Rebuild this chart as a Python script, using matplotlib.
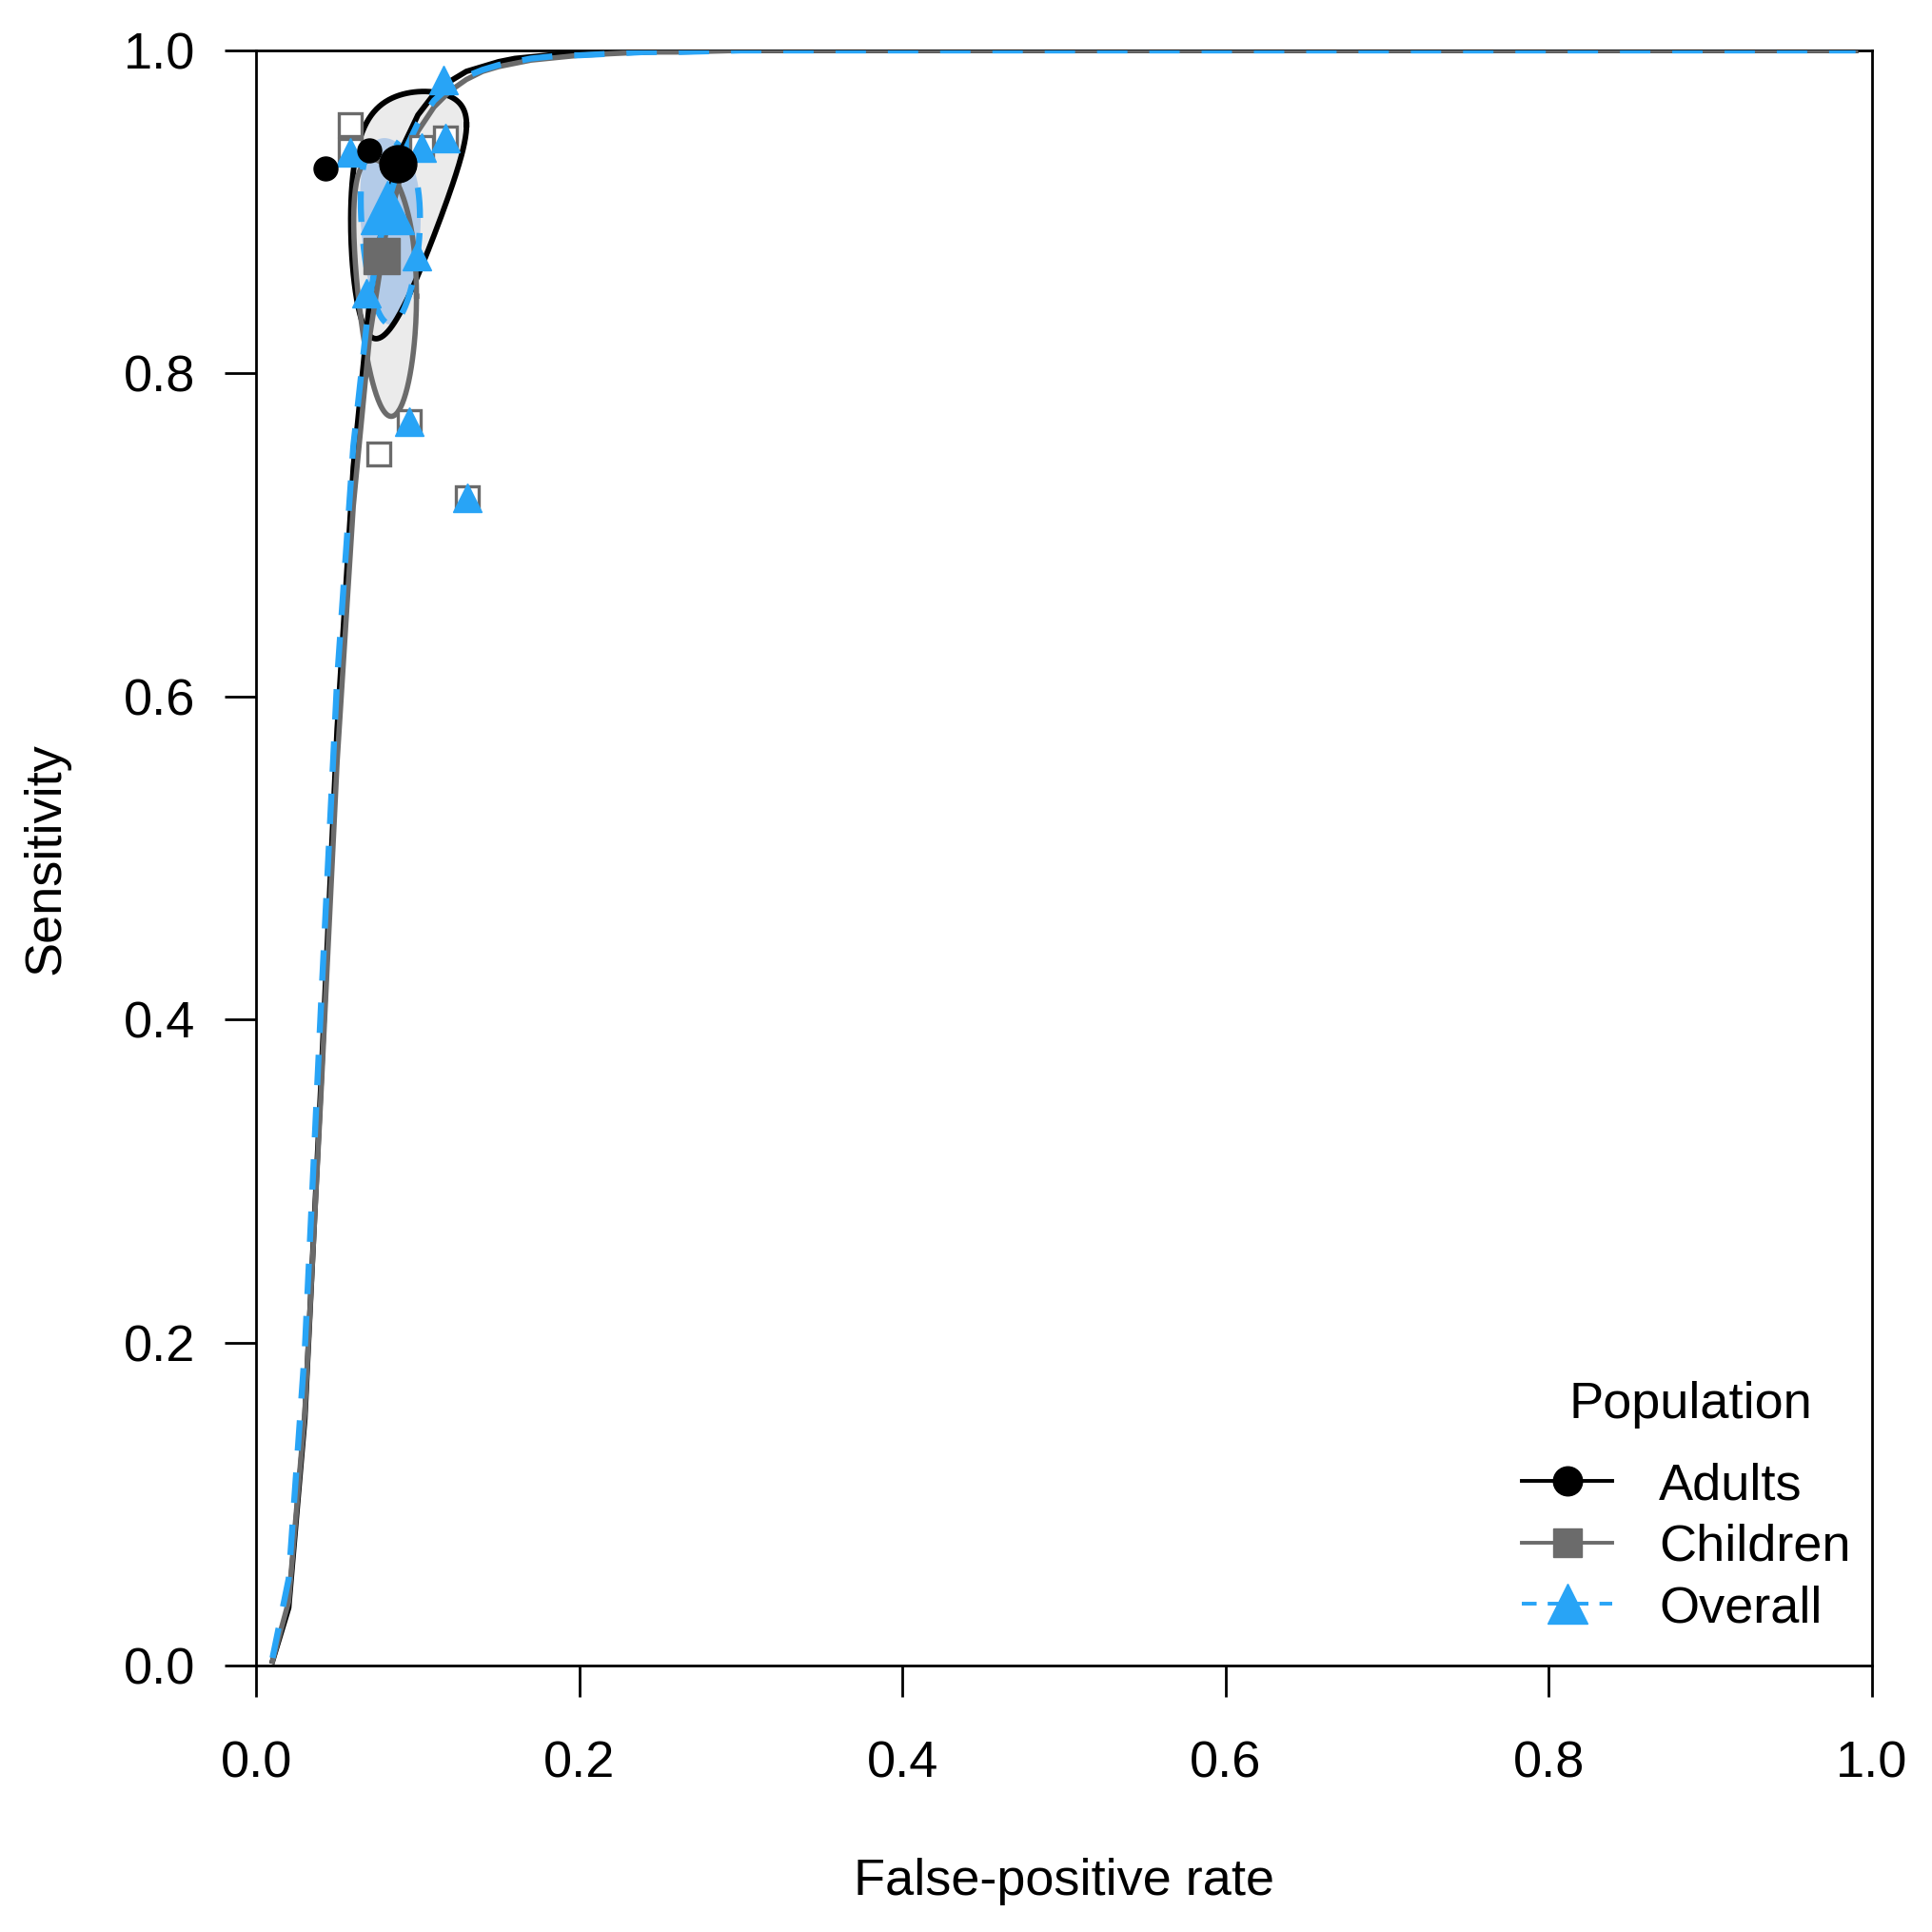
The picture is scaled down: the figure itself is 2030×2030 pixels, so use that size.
import numpy as np
import matplotlib.pyplot as plt
from matplotlib.lines import Line2D

plt.rcParams['font.family'] = ['Liberation Sans', 'DejaVu Sans']

# SROC curves
sroc_fpr = [0.01, 0.02, 0.03, 0.04, 0.05, 0.06, 0.07, 0.08, 0.09, 0.10, 0.11, 0.12, 0.13,
            0.14, 0.15, 0.16, 0.17, 0.18, 0.19, 0.20, 0.22, 0.24, 0.26, 0.30, 0.99]
adult_sroc = [0.003, 0.036, 0.153, 0.361, 0.580, 0.742, 0.844, 0.904, 0.939, 0.960, 0.973, 0.981, 0.987,
              0.990, 0.993, 0.995, 0.996, 0.997, 0.998, 0.998, 0.999, 0.999, 1.000, 1.000, 1.000]
child_sroc = [0.003, 0.040, 0.157, 0.354, 0.560, 0.718, 0.822, 0.886, 0.925, 0.950, 0.965, 0.975, 0.982,
              0.987, 0.990, 0.992, 0.994, 0.995, 0.996, 0.997, 0.998, 0.999, 0.999, 1.000, 1.000]
overall_sroc = [0.005, 0.054, 0.196, 0.409, 0.611, 0.755, 0.846, 0.901, 0.934, 0.955, 0.969, 0.978, 0.984,
                0.988, 0.991, 0.993, 0.995, 0.996, 0.997, 0.997, 0.998, 0.999, 0.999, 1.000, 1.000]

# study estimates
adult_fpr = [0.043, 0.070]
adult_sens = [0.927, 0.938]
child_fpr = [0.058, 0.076, 0.058, 0.1025, 0.117, 0.0947, 0.1306]
child_sens = [0.954, 0.750, 0.938, 0.940, 0.946, 0.770, 0.723]
overall_fpr = [0.058, 0.1157, 0.1025, 0.117, 0.0996, 0.0682, 0.0947, 0.1306]
overall_sens = [0.937, 0.982, 0.940, 0.946, 0.873, 0.850, 0.770, 0.723]

# summary points
summ_adult = (0.0878, 0.930)
summ_child = (0.0776, 0.873)
summ_overall = (0.081, 0.903)

# confidence regions in logit space: centre x, centre y, half-width x, half-width y, correlation
adult_region = (-2.340, 2.587, 0.44, 1.06, 0.42)
child_region = (-2.477, 1.928, 0.27, 0.70, -0.30)
overall_region = (-2.428, 2.220, 0.245, 0.63, -0.10)

BLUE = '#28a4f6'
GREY = '#6b6b6b'


def region_xy(reg):
    cx, cy, rx, ry, rho = reg
    t = np.linspace(0, 2 * np.pi, 300)
    d = np.arccos(rho)
    lx = cx + rx * np.cos(t)
    ly = cy + ry * np.cos(t - d)
    return 1 / (1 + np.exp(-lx)), 1 / (1 + np.exp(-ly))


fig = plt.figure(figsize=(20.3, 20.3), dpi=100)
ax = fig.add_axes([0.1327, 0.1377, 0.8361, 0.8362])

ax_x, ax_y = region_xy(adult_region)
ch_x, ch_y = region_xy(child_region)
ov_x, ov_y = region_xy(overall_region)

ax.fill(ax_x, ax_y, color='#ebebeb', zorder=1)
ax.fill(ch_x, ch_y, color='#ebebeb', zorder=1)
ax.fill(ov_x, ov_y, color='#b3cbe8', zorder=1.5)
ax.plot(ax_x, ax_y, color='black', lw=4.2, zorder=2)
ax.plot(ch_x, ch_y, color=GREY, lw=4.0, zorder=2)
ax.plot(ov_x, ov_y, color=BLUE, lw=4.6, dashes=(5, 3.6), zorder=2)

ax.plot(sroc_fpr, adult_sroc, color='black', lw=4.2, zorder=3)
ax.plot(sroc_fpr, child_sroc, color=GREY, lw=4.0, zorder=3)
ax.plot(sroc_fpr, overall_sroc, color=BLUE, lw=4.6, dashes=(5, 3.6), zorder=3)

ax.plot(child_fpr, child_sens, ls='none', marker='s', ms=17, mfc='white', mec=GREY, mew=2.4, zorder=4)
ax.plot(overall_fpr, overall_sens, ls='none', marker='^', ms=22, color=BLUE, zorder=5)
ax.plot(adult_fpr, adult_sens, ls='none', marker='o', ms=18, color='black', zorder=6)

ax.plot(*summ_child, marker='s', ms=28, color=GREY, ls='none', zorder=7)
ax.plot(*summ_overall, marker='^', ms=40, color=BLUE, ls='none', zorder=7)
ax.plot(*summ_adult, marker='o', ms=28, color='black', ls='none', zorder=8)

ax.set_xlim(0, 1)
ax.set_ylim(0, 1)
ticks = [0.0, 0.2, 0.4, 0.6, 0.8, 1.0]
ax.set_xticks(ticks)
ax.set_yticks(ticks)
ax.set_xticklabels(['%.1f' % t for t in ticks])
ax.set_yticklabels(['%.1f' % t for t in ticks])
ax.tick_params(direction='out', length=24, width=2, labelsize=39)
ax.tick_params(axis='x', pad=32)
ax.tick_params(axis='y', pad=22)
for s in ax.spines.values():
    s.set_linewidth(2)

ax.set_xlabel('False-positive rate', fontsize=39, va='center')
ax.xaxis.set_label_coords(0.5, -0.1334)
ax.set_ylabel('Sensitivity', fontsize=39, va='center')
ax.yaxis.set_label_coords(-0.1304, 0.5)

handles = [
    Line2D([], [], color='black', lw=2.8, marker='o', ms=22),
    Line2D([], [], color=GREY, lw=2.8, marker='s', ms=22),
    Line2D([], [], color=BLUE, lw=2.8, dashes=(4, 3), marker='^', ms=30),
]
leg = ax.legend(handles, ['Adults', 'Children', 'Overall'],
                loc='lower right', bbox_to_anchor=(1.0156, -0.008), frameon=False,
                fontsize=39, handlelength=1.75, handletextpad=0.9,
                labelspacing=0.27)
ax.text(0.8878, 0.1617, 'Population', transform=ax.transAxes, fontsize=39,
        ha='center', va='center')

fig.savefig('out.png', dpi=100)
